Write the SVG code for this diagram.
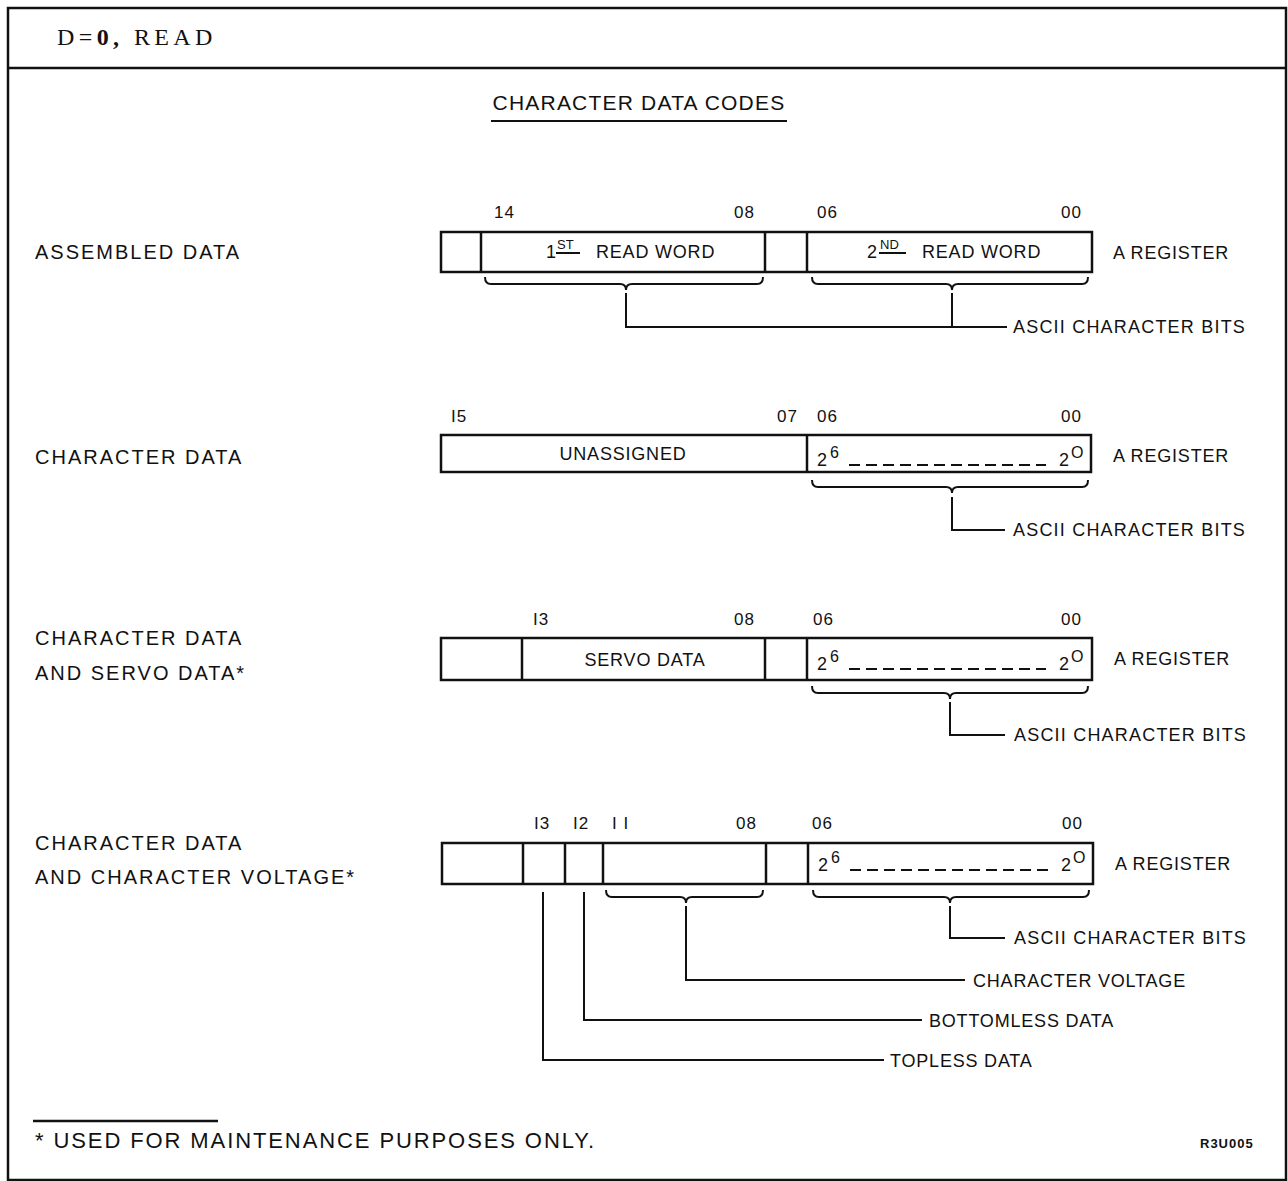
<svg xmlns="http://www.w3.org/2000/svg" width="1288" height="1181" viewBox="0 0 1288 1181">
<style>
.frame{fill:none;stroke:#111;stroke-width:2.5}
.box{fill:#fff;stroke:#111;stroke-width:2.5}
.div{stroke:#111;stroke-width:2.5}
.brace{fill:none;stroke:#111;stroke-width:2}
.ln{fill:none;stroke:#111;stroke-width:2}
.dash{stroke:#111;stroke-width:2;stroke-dasharray:11,6}
text{font-family:"Liberation Sans",Arial,sans-serif;fill:#111}
.lbl{font-size:20px;letter-spacing:2px}
.sm{font-size:18px;letter-spacing:0.8px}
.asc{font-size:18px;letter-spacing:1.2px}
.bit{font-size:17px;letter-spacing:1px}
.in{font-size:18px;letter-spacing:0.8px}
.sup{font-size:13px}
.sup2{font-size:16px}
</style>
<rect class="frame" x="8" y="8" width="1278" height="1172"/>
<line class="frame" x1="8" y1="68" x2="1286" y2="68"/>
<text x="57" y="45" style="font-family:'Liberation Serif','Times New Roman',serif;font-size:24px;letter-spacing:4.4px">D=<tspan font-weight="bold">0,</tspan>  READ</text>
<text x="639" y="110" text-anchor="middle" style="font-size:21px;letter-spacing:1.2px">CHARACTER DATA CODES</text>
<line class="ln" x1="491" y1="121" x2="787" y2="121"/>

<g id="row1">
<text class="lbl" x="35" y="259">ASSEMBLED DATA</text>
<text class="bit" x="494" y="218">14</text>
<text class="bit" x="734" y="218">08</text>
<text class="bit" x="817" y="218">06</text>
<text class="bit" x="1061" y="218">00</text>
<rect class="box" x="441" y="232" width="651" height="40"/>
<line class="div" x1="481" y1="232" x2="481" y2="272"/>
<line class="div" x1="765" y1="232" x2="765" y2="272"/>
<line class="div" x1="807" y1="232" x2="807" y2="272"/>
<text class="in" x="546" y="258">1</text>
<text class="sup" x="557" y="249">ST</text>
<line class="ln" x1="556" y1="253" x2="580" y2="253"/>
<text class="in" x="596" y="258">READ WORD</text>
<text class="in" x="867" y="258">2</text>
<text class="sup" x="880" y="249">ND</text>
<line class="ln" x1="879" y1="253" x2="906" y2="253"/>
<text class="in" x="922" y="258">READ WORD</text>
<text class="sm" x="1113" y="259">A REGISTER</text>
</g>

<g id="row2">
<text class="lbl" x="35" y="464">CHARACTER DATA</text>
<text class="bit" x="451" y="422">I5</text>
<text class="bit" x="777" y="422">07</text>
<text class="bit" x="817" y="422">06</text>
<text class="bit" x="1061" y="422">00</text>
<rect class="box" x="441" y="435" width="650" height="37"/>
<line class="div" x1="807" y1="435" x2="807" y2="472"/>
<text class="in" x="623" y="460" text-anchor="middle">UNASSIGNED</text>
<text class="in" x="817" y="466">2</text>
<text class="sup2" x="830" y="458">6</text>
<line class="dash" x1="849" y1="465" x2="1046" y2="465"/>
<text class="in" x="1059" y="466">2</text>
<text class="sup2" x="1071" y="458">O</text>
<text class="sm" x="1113" y="462">A REGISTER</text>
</g>

<g id="row3">
<text class="lbl" x="35" y="645">CHARACTER DATA</text>
<text class="lbl" x="35" y="680">AND SERVO DATA*</text>
<text class="bit" x="533" y="625">I3</text>
<text class="bit" x="734" y="625">08</text>
<text class="bit" x="813" y="625">06</text>
<text class="bit" x="1061" y="625">00</text>
<rect class="box" x="441" y="638" width="651" height="42"/>
<line class="div" x1="522" y1="638" x2="522" y2="680"/>
<line class="div" x1="765" y1="638" x2="765" y2="680"/>
<line class="div" x1="807" y1="638" x2="807" y2="680"/>
<text class="in" x="645" y="666" text-anchor="middle">SERVO DATA</text>
<text class="in" x="817" y="670">2</text>
<text class="sup2" x="830" y="662">6</text>
<line class="dash" x1="849" y1="669" x2="1046" y2="669"/>
<text class="in" x="1059" y="670">2</text>
<text class="sup2" x="1071" y="662">O</text>
<text class="sm" x="1114" y="665">A REGISTER</text>
</g>

<g id="row4">
<text class="lbl" x="35" y="850">CHARACTER DATA</text>
<text class="lbl" x="35" y="884">AND CHARACTER VOLTAGE*</text>
<text class="bit" x="534" y="829">I3</text>
<text class="bit" x="573" y="829">I2</text>
<text class="bit" x="612" y="829">I I</text>
<text class="bit" x="736" y="829">08</text>
<text class="bit" x="812" y="829">06</text>
<text class="bit" x="1062" y="829">00</text>
<rect class="box" x="442" y="843" width="651" height="41"/>
<line class="div" x1="523" y1="843" x2="523" y2="884"/>
<line class="div" x1="565" y1="843" x2="565" y2="884"/>
<line class="div" x1="603" y1="843" x2="603" y2="884"/>
<line class="div" x1="766" y1="843" x2="766" y2="884"/>
<line class="div" x1="808" y1="843" x2="808" y2="884"/>
<text class="in" x="818" y="871">2</text>
<text class="sup2" x="831" y="863">6</text>
<line class="dash" x1="850" y1="870" x2="1048" y2="870"/>
<text class="in" x="1061" y="871">2</text>
<text class="sup2" x="1073" y="863">O</text>
<text class="sm" x="1115" y="870">A REGISTER</text>
</g>

<g id="callouts">
<text class="asc" x="1013" y="333">ASCII CHARACTER BITS</text>
<text class="asc" x="1013" y="536">ASCII CHARACTER BITS</text>
<text class="asc" x="1014" y="741">ASCII CHARACTER BITS</text>
<text class="asc" x="1014" y="944">ASCII CHARACTER BITS</text>
<text class="sm" x="973" y="987">CHARACTER VOLTAGE</text>
<text class="sm" x="929" y="1027">BOTTOMLESS DATA</text>
<text class="sm" x="890" y="1067">TOPLESS DATA</text>
</g>

<g id="connectors">
<path class="brace" d="M485 277 Q485 284 491 284 L620 284 Q626 284 626 290 Q626 284 632 284 L757 284 Q763 284 763 277"/>
<path class="brace" d="M812 277 Q812 284 818 284 L946 284 Q952 284 952 290 Q952 284 958 284 L1082 284 Q1088 284 1088 277"/>
<path class="ln" d="M626 293 L626 327 L1007 327 M952 293 L952 327"/>
<path class="brace" d="M812 480 Q812 487 818 487 L946 487 Q952 487 952 493 Q952 487 958 487 L1082 487 Q1088 487 1088 480"/>
<path class="ln" d="M952 497 L952 530 L1005 530"/>
<path class="brace" d="M812 686 Q812 693 818 693 L944 693 Q950 693 950 699 Q950 693 956 693 L1082 693 Q1088 693 1088 686"/>
<path class="ln" d="M950 702 L950 735 L1005 735"/>
<path class="brace" d="M606 890 Q606 897 612 897 L680 897 Q686 897 686 903 Q686 897 692 897 L757 897 Q763 897 763 890"/>
<path class="brace" d="M813 890 Q813 897 819 897 L944 897 Q950 897 950 903 Q950 897 956 897 L1083 897 Q1089 897 1089 890"/>
<path class="ln" d="M950 906 L950 938 L1005 938"/>
<path class="ln" d="M686 906 L686 980 L965 980"/>
<path class="ln" d="M584 892 L584 1020 L922 1020"/>
<path class="ln" d="M543 892 L543 1060 L884 1060"/>
</g>

<line x1="33" y1="1121" x2="218" y2="1121" stroke="#111" stroke-width="2.5"/>
<text x="35" y="1148" style="font-size:22px;letter-spacing:1.9px">*  USED FOR MAINTENANCE PURPOSES ONLY.</text>
<text x="1200" y="1148" style="font-size:13px;font-weight:bold;letter-spacing:1px">R3U005</text>
</svg>
